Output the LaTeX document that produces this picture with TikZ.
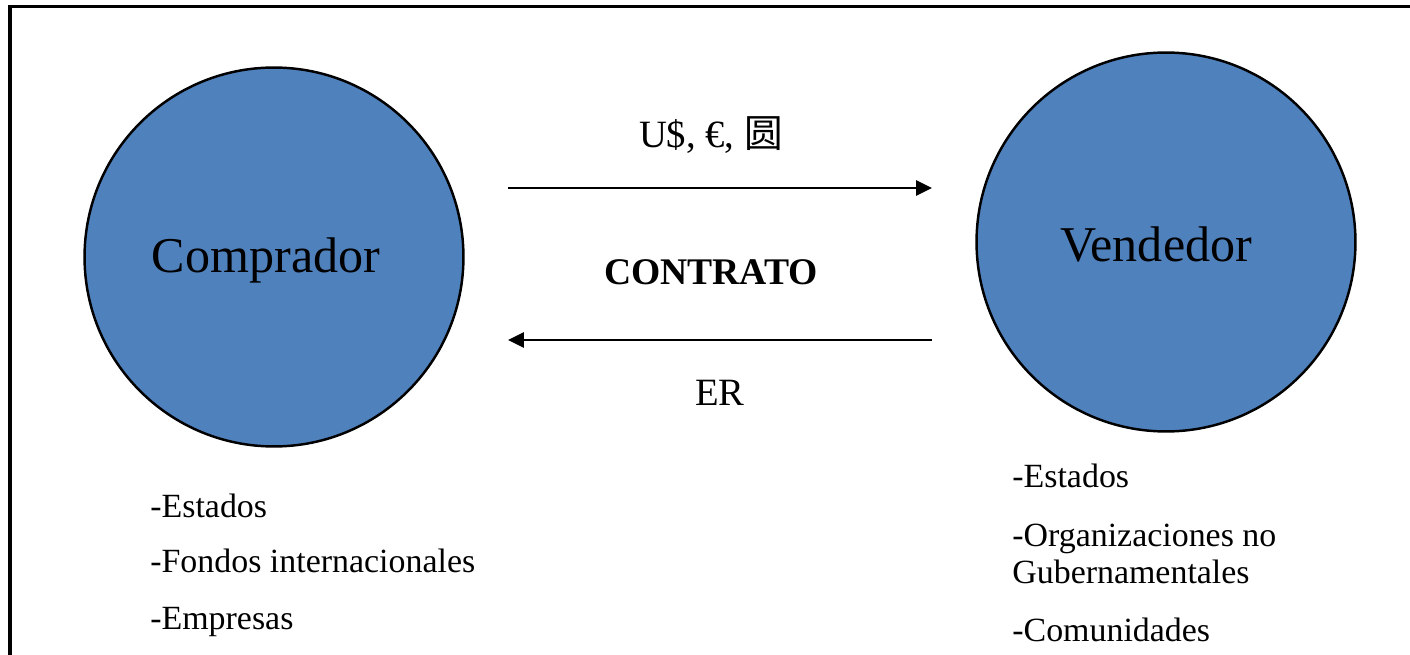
\documentclass[tikz,border=0pt]{standalone}
\usepackage{fontspec}
\setmainfont{Liberation Serif}
\newfontfamily\cjk{Noto Sans CJK SC}
\usetikzlibrary{arrows.meta, positioning}
\definecolor{partyblue}{HTML}{4F81BD}
\tikzstyle{party}=[circle, draw, line width=1.4pt, fill=partyblue, minimum size=7.58cm, inner sep=0pt]
\tikzstyle{partyname}=[font=\fontsize{28.5}{32}\selectfont]
\tikzstyle{flow}=[-{Triangle[length=9pt,width=8.5pt]}, line width=1.6pt]
\tikzstyle{entry}=[inner sep=0pt, anchor=base west, font=\fontsize{19.3}{23}\selectfont]

\begin{document}
\begin{tikzpicture}[x=0.02cm, y=-0.02cm, font=\fontsize{22}{26}\selectfont]
  \clip (0,0) rectangle (1410,655);
  \draw[line width=2pt] (10,6.5) rectangle (1440,700);
  \node[party] (buyer) at (274,257) {};
  \node[party] (seller) at (1166,242) {};
  \node[partyname] (buyername) at (266,260) {Comprador};
  \node[partyname] (sellername) at (1156,245) {Vendedor};
  \coordinate (payL) at (508,188);
  \coordinate (payR) at (932,188);
  \coordinate (erR) at (932,340);
  \coordinate (erL) at (508,340);
  \draw[flow] (payL) -- (payR);
  \draw[flow] (erR) -- (erL);
  \node (money) at (711,135) {U\$, €, {\cjk 圆}};
  \node[font=\fontsize{21.4}{25}\bfseries] (contract) at (711,272) {CONTRATO};
  \node (er) at (720,393) {ER};
  % compradores
  \node[entry] (b1) at (150,517) {-Estados};
  \node[entry] (b2) at (150,572) {-Fondos internacionales};
  \node[entry] (b3) at (150,629) {-Empresas};
  % vendedores
  \node[entry] (s1) at (1012,487) {-Estados};
  \node[entry] (s2) at (1012,546) {-Organizaciones no};
  \node[entry] (s3) at (1012,583) {Gubernamentales};
  \node[entry] (s4) at (1012,641) {-Comunidades};
\end{tikzpicture}
\end{document}
